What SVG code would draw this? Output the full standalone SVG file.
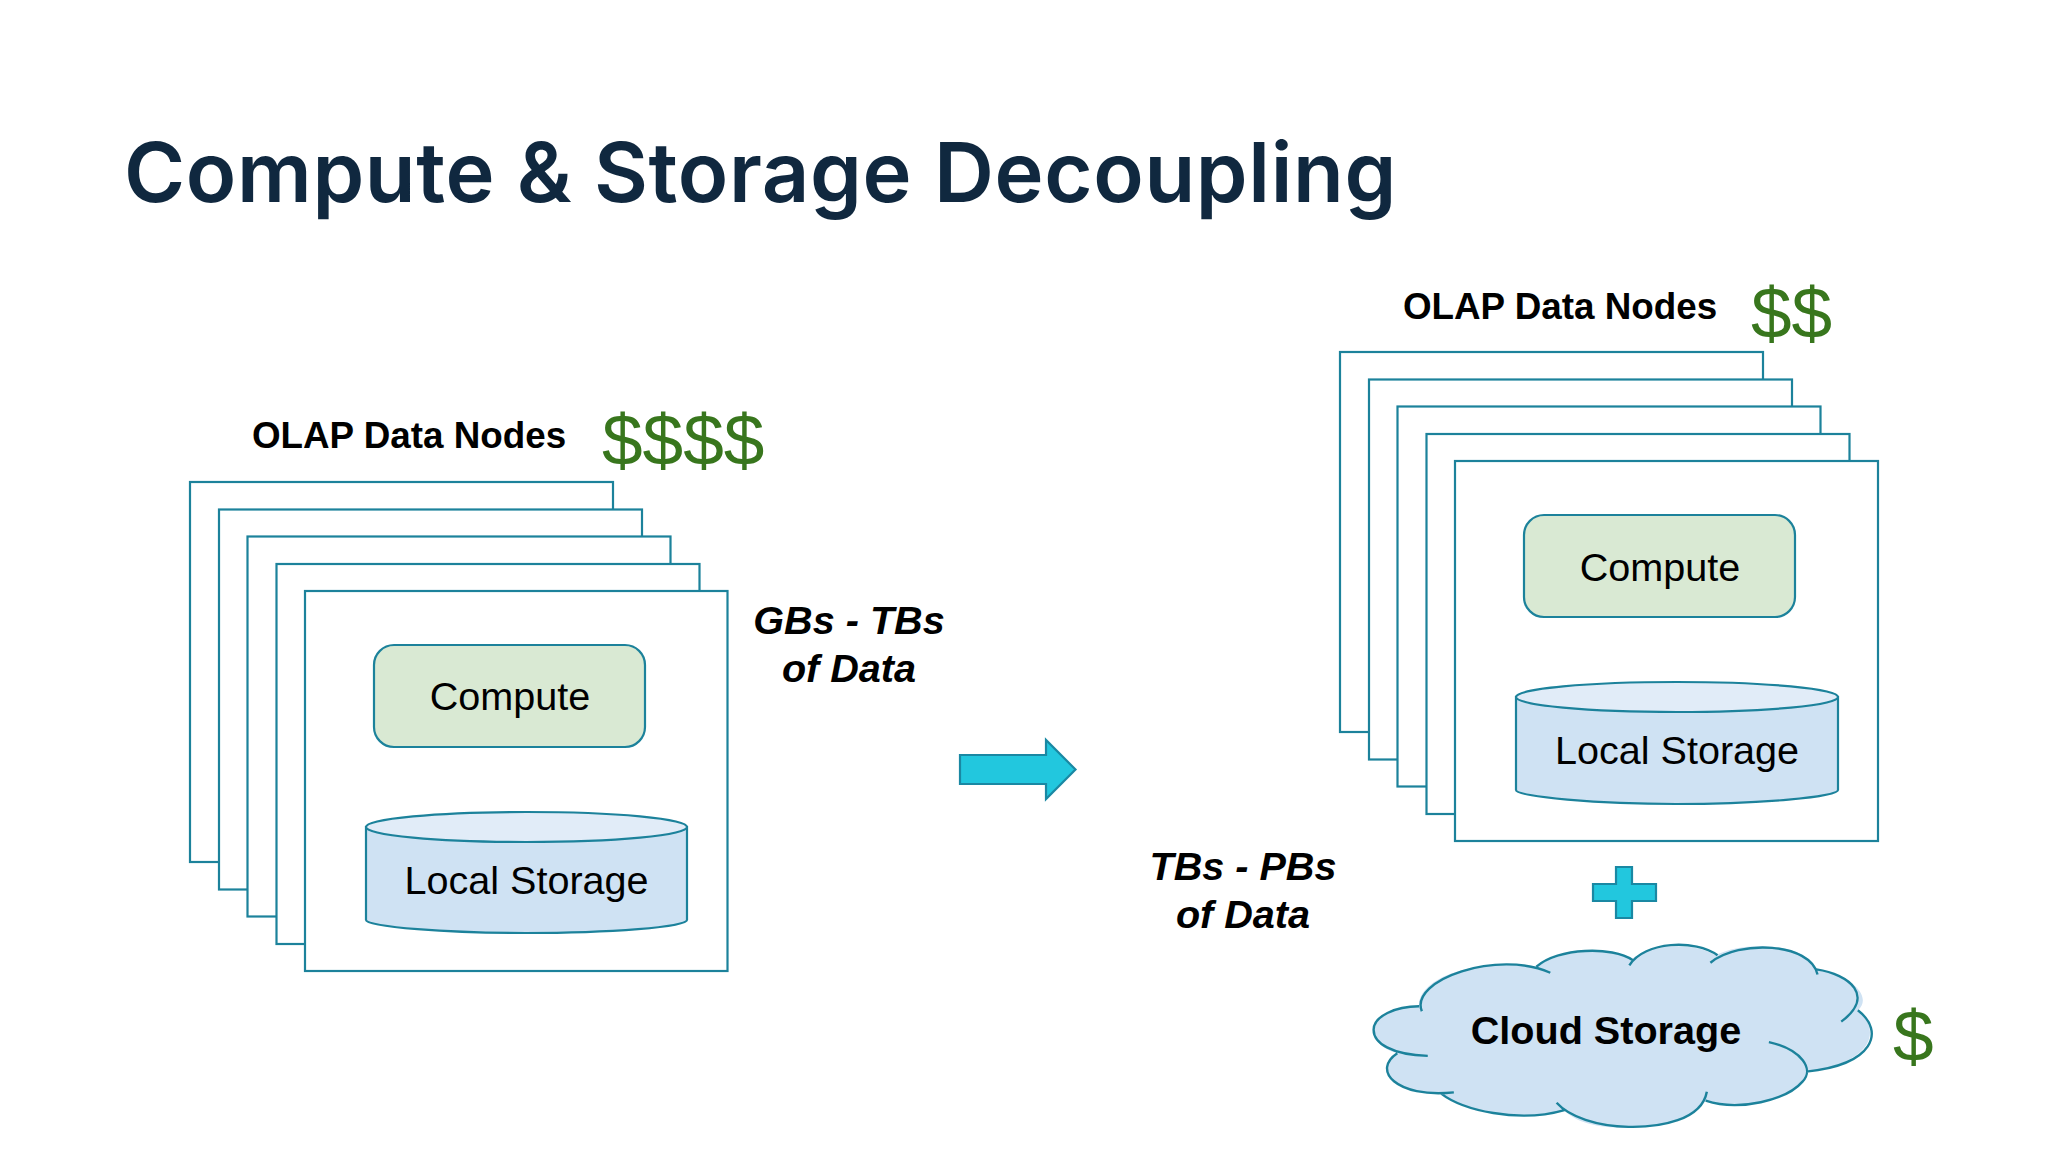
<svg xmlns="http://www.w3.org/2000/svg" width="2048" height="1152" viewBox="0 0 2048 1152">
<style>
.card{fill:#fff;stroke:#1c829b;stroke-width:2.2}
.comp{fill:#d9e9d3;stroke:#1c829b;stroke-width:2.2}
.store{fill:#cfe2f3;stroke:#1c829b;stroke-width:2.2}
.top{fill:#e1ecf8;stroke:#1c829b;stroke-width:2.2}
.arrow{fill:#22c7de;stroke:#1a88a3;stroke-width:2.2}
.cl{fill:none;stroke:#1c829b;stroke-width:2.4;vector-effect:non-scaling-stroke}
.l{font-family:"Liberation Sans",Arial,sans-serif;font-size:39.6px;fill:#000;text-anchor:middle}
.b{font-family:"Liberation Sans",Arial,sans-serif;font-weight:700;font-size:36.8px;fill:#000;text-anchor:middle}
.i{font-family:"Liberation Sans",Arial,sans-serif;font-weight:700;font-style:italic;font-size:39.6px;fill:#000;text-anchor:middle}
.d{font-family:"Liberation Sans",Arial,sans-serif;font-size:73px;fill:#38761d}
</style>
<rect width="2048" height="1152" fill="#fff"/>
<text x="124" y="202" font-family="Inter,'Noto Sans',sans-serif" font-weight="600" font-size="83" letter-spacing="0.65" fill="#10283f">Compute &amp; Storage Decoupling</text>
<g id="left-stack">
<rect class="card" x="190" y="482" width="423" height="380"/>
<rect class="card" x="219" y="509.500" width="423" height="380"/>
<rect class="card" x="247.500" y="536.500" width="423" height="380"/>
<rect class="card" x="276.500" y="564" width="423" height="380"/>
<rect class="card" x="305" y="591" width="422.500" height="380"/>
</g>
<g id="left-compute"><rect class="comp" x="374" y="645" width="271" height="102" rx="20"/><text class="l" x="510" y="710">Compute</text></g>
<g id="left-storage"><path class="store" d="M366 827V920C366 927 450 933 526 933C610 933 687 927 687 920V827Z"/><ellipse class="top" cx="526.500" cy="827" rx="160.500" ry="15"/><text class="l" x="526.500" y="894">Local Storage</text></g>
<g id="left-labels"><text class="b" x="409" y="448">OLAP Data Nodes</text><text class="d" x="602" y="465">$$$$</text><text class="i" x="849" y="634">GBs - TBs</text><text class="i" x="849" y="682">of Data</text></g>
<g id="connectors"><path class="arrow" d="M960 755H1046V740L1075.500 769.500L1046 799V784H960Z"/></g>
<g id="right-stack">
<rect class="card" x="1340" y="352" width="423" height="380"/>
<rect class="card" x="1369" y="379.500" width="423" height="380"/>
<rect class="card" x="1397.500" y="406.500" width="423" height="380"/>
<rect class="card" x="1426.500" y="434" width="423" height="380"/>
<rect class="card" x="1455" y="461" width="423" height="380"/>
</g>
<g id="right-compute"><rect class="comp" x="1524" y="515" width="271" height="102" rx="20"/><text class="l" x="1660" y="581">Compute</text></g>
<g id="right-storage"><path class="store" d="M1516 697V790C1516 797 1600 804 1676 804C1760 804 1838 797 1838 790V697Z"/><ellipse class="top" cx="1677" cy="697" rx="161" ry="15"/><text class="l" x="1677" y="764">Local Storage</text></g>
<g id="right-labels"><text class="b" x="1560" y="319">OLAP Data Nodes</text><text class="d" x="1751" y="338">$$</text><text class="i" x="1243" y="880">TBs - PBs</text><text class="i" x="1243" y="928">of Data</text></g>
<g id="plus"><path class="arrow" d="M1593 884H1616V867H1632V884H1656V901H1632V918H1616V901H1593Z"/></g>
<g id="cloud">
<g transform="translate(1340 922.500) scale(.3953 .335)">
<path fill="#cfe2f3" d="M200 250C195 170 330 105 497 132C550 85 690 70 738 110C790 60 900 60 950 98C1020 55 1180 60 1205 140C1290 155 1350 220 1310 262C1370 320 1350 420 1180 445C1190 500 1060 570 925 532C870 630 620 640 568 560C450 600 310 560 255 510C130 510 80 440 145 390C50 360 70 250 200 250Z"/>
<path class="cl" d="M207 265C175 170 400 80 532 150M497 132C550 75 690 70 740 112M732 128C770 55 900 50 955 98M937 120C1010 50 1190 60 1208 155M1205 140C1290 155 1355 220 1268 296M1310 262C1380 325 1350 425 1180 445M1085 357C1170 380 1200 440 1170 475C1130 530 1010 565 925 532M928 505C915 590 810 612 730 610C650 608 580 580 548 538M568 560C450 600 310 560 255 510M288 507C140 525 80 440 145 390M222 398C130 395 85 360 85 320C85 280 140 250 200 250"/>
</g>
<text class="b" x="1606" y="1044" style="font-size:39.600px">Cloud Storage</text></g>
<g id="cloud-cost"><text class="d" x="1893" y="1061">$</text></g>
</svg>
